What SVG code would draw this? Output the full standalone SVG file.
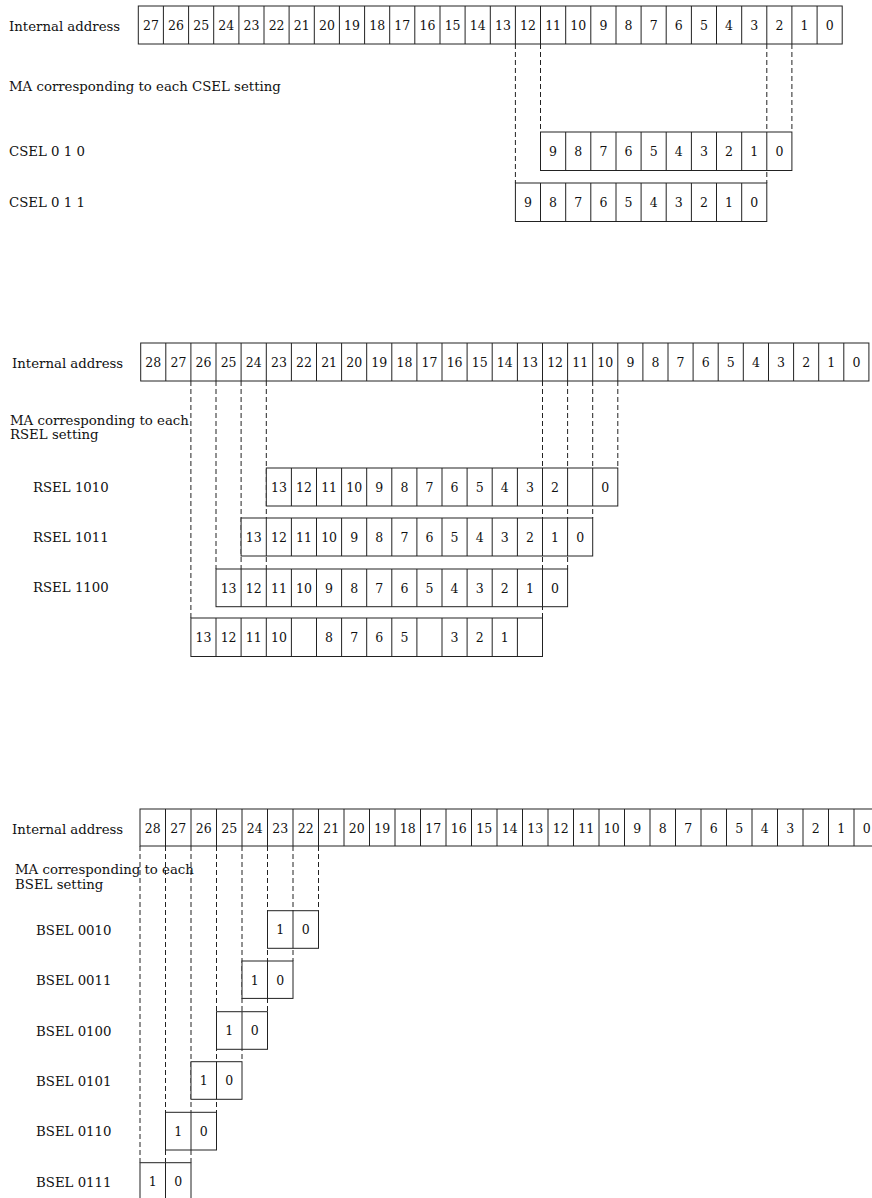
<svg xmlns="http://www.w3.org/2000/svg" width="872" height="1198" viewBox="0 0 872 1198">
<style>
.lbl{font-family:"DejaVu Serif","Liberation Serif",serif;font-size:13.3px;fill:#111}
.n{font-family:"DejaVu Serif","Liberation Serif",serif;font-size:12.5px;fill:#111;text-anchor:middle}
.box{fill:#fff;stroke:#222;stroke-width:1}
.div{fill:none;stroke:#222;stroke-width:1}
.dash{fill:none;stroke:#222;stroke-width:1;stroke-dasharray:5 3}
</style>
<rect width="872" height="1198" fill="#fff"/>

<!-- ===== CSEL section ===== -->
<g id="connectors-csel">
<path class="dash" d="M515.4 44V183M540.5 44V132M766.8 44V183M791.9 44V132"/>
</g>
<g id="csel-labels">
<text class="lbl" x="9" y="30.5">Internal address</text>
<text class="lbl" x="9" y="91">MA corresponding to each CSEL setting</text>
<text class="lbl" x="9" y="156">CSEL 0 1 0</text>
<text class="lbl" x="9" y="207">CSEL 0 1 1</text>
</g>
<g id="csel-internal">
<rect class="box" x="138.3" y="6" width="703.9" height="38"/>
<path class="div" d="M163.4 6v38M188.6 6v38M213.7 6v38M238.9 6v38M264 6v38M289.1 6v38M314.3 6v38M339.4 6v38M364.6 6v38M389.7 6v38M414.8 6v38M440 6v38M465.1 6v38M490.3 6v38M515.4 6v38M540.5 6v38M565.7 6v38M590.8 6v38M616 6v38M641.1 6v38M666.2 6v38M691.4 6v38M716.5 6v38M741.7 6v38M766.8 6v38M791.9 6v38M817.1 6v38"/>
<text class="n" x="150.9" y="30">27</text><text class="n" x="176" y="30">26</text><text class="n" x="201.2" y="30">25</text><text class="n" x="226.3" y="30">24</text><text class="n" x="251.5" y="30">23</text><text class="n" x="276.6" y="30">22</text><text class="n" x="301.7" y="30">21</text><text class="n" x="326.9" y="30">20</text><text class="n" x="352" y="30">19</text><text class="n" x="377.2" y="30">18</text><text class="n" x="402.3" y="30">17</text><text class="n" x="427.4" y="30">16</text><text class="n" x="452.6" y="30">15</text><text class="n" x="477.7" y="30">14</text><text class="n" x="502.9" y="30">13</text><text class="n" x="528" y="30">12</text><text class="n" x="553.1" y="30">11</text><text class="n" x="578.3" y="30">10</text><text class="n" x="603.4" y="30">9</text><text class="n" x="628.6" y="30">8</text><text class="n" x="653.7" y="30">7</text><text class="n" x="678.8" y="30">6</text><text class="n" x="704" y="30">5</text><text class="n" x="729.1" y="30">4</text><text class="n" x="754.3" y="30">3</text><text class="n" x="779.4" y="30">2</text><text class="n" x="804.5" y="30">1</text><text class="n" x="829.7" y="30">0</text>
</g>
<g id="csel-010">
<rect class="box" x="540.5" y="132" width="251.4" height="38.5"/>
<path class="div" d="M565.7 132v38.5M590.8 132v38.5M616 132v38.5M641.1 132v38.5M666.2 132v38.5M691.4 132v38.5M716.5 132v38.5M741.7 132v38.5M766.8 132v38.5"/>
<text class="n" x="553.1" y="156">9</text><text class="n" x="578.3" y="156">8</text><text class="n" x="603.4" y="156">7</text><text class="n" x="628.6" y="156">6</text><text class="n" x="653.7" y="156">5</text><text class="n" x="678.8" y="156">4</text><text class="n" x="704" y="156">3</text><text class="n" x="729.1" y="156">2</text><text class="n" x="754.3" y="156">1</text><text class="n" x="779.4" y="156">0</text>
</g>
<g id="csel-011">
<rect class="box" x="515.4" y="183" width="251.4" height="38.5"/>
<path class="div" d="M540.5 183v38.5M565.7 183v38.5M590.8 183v38.5M616 183v38.5M641.1 183v38.5M666.2 183v38.5M691.4 183v38.5M716.5 183v38.5M741.7 183v38.5"/>
<text class="n" x="528" y="207">9</text><text class="n" x="553.1" y="207">8</text><text class="n" x="578.3" y="207">7</text><text class="n" x="603.4" y="207">6</text><text class="n" x="628.6" y="207">5</text><text class="n" x="653.7" y="207">4</text><text class="n" x="678.8" y="207">3</text><text class="n" x="704" y="207">2</text><text class="n" x="729.1" y="207">1</text><text class="n" x="754.3" y="207">0</text>
</g>

<!-- ===== RSEL section ===== -->
<g id="connectors-rsel">
<path class="dash" d="M190.9 381V618M216 381V569M241.1 381V569M266.3 381V569M542.5 381V618M567.6 381V569M592.7 381V518M617.8 381V468"/>
</g>
<g id="rsel-labels">
<text class="lbl" x="12" y="368">Internal address</text>
<text class="lbl" x="10" y="425">MA corresponding to each</text>
<text class="lbl" x="10" y="439">RSEL setting</text>
<text class="lbl" x="33" y="492">RSEL 1010</text>
<text class="lbl" x="33" y="542">RSEL 1011</text>
<text class="lbl" x="33" y="592">RSEL 1100</text>
</g>
<g id="rsel-internal">
<rect class="box" x="140.7" y="343" width="728.2" height="38"/>
<path class="div" d="M165.8 343v38M190.9 343v38M216 343v38M241.1 343v38M266.3 343v38M291.4 343v38M316.5 343v38M341.6 343v38M366.7 343v38M391.8 343v38M416.9 343v38M442 343v38M467.1 343v38M492.2 343v38M517.4 343v38M542.5 343v38M567.6 343v38M592.7 343v38M617.8 343v38M642.9 343v38M668 343v38M693.1 343v38M718.2 343v38M743.3 343v38M768.5 343v38M793.6 343v38M818.7 343v38M843.8 343v38"/>
<text class="n" x="153.3" y="367">28</text><text class="n" x="178.4" y="367">27</text><text class="n" x="203.5" y="367">26</text><text class="n" x="228.6" y="367">25</text><text class="n" x="253.7" y="367">24</text><text class="n" x="278.9" y="367">23</text><text class="n" x="304" y="367">22</text><text class="n" x="329.1" y="367">21</text><text class="n" x="354.2" y="367">20</text><text class="n" x="379.3" y="367">19</text><text class="n" x="404.4" y="367">18</text><text class="n" x="429.5" y="367">17</text><text class="n" x="454.6" y="367">16</text><text class="n" x="479.7" y="367">15</text><text class="n" x="504.8" y="367">14</text><text class="n" x="530" y="367">13</text><text class="n" x="555.1" y="367">12</text><text class="n" x="580.2" y="367">11</text><text class="n" x="605.3" y="367">10</text><text class="n" x="630.4" y="367">9</text><text class="n" x="655.5" y="367">8</text><text class="n" x="680.6" y="367">7</text><text class="n" x="705.7" y="367">6</text><text class="n" x="730.8" y="367">5</text><text class="n" x="755.9" y="367">4</text><text class="n" x="781.1" y="367">3</text><text class="n" x="806.2" y="367">2</text><text class="n" x="831.3" y="367">1</text><text class="n" x="856.4" y="367">0</text>
</g>
<g id="rsel-1010">
<rect class="box" x="266.3" y="468" width="351.5" height="38"/>
<path class="div" d="M291.4 468v38M316.5 468v38M341.6 468v38M366.7 468v38M391.8 468v38M416.9 468v38M442 468v38M467.1 468v38M492.2 468v38M517.4 468v38M542.5 468v38M567.6 468v38M592.7 468v38"/>
<text class="n" x="278.9" y="491.7">13</text><text class="n" x="304" y="491.7">12</text><text class="n" x="329.1" y="491.7">11</text><text class="n" x="354.2" y="491.7">10</text><text class="n" x="379.3" y="491.7">9</text><text class="n" x="404.4" y="491.7">8</text><text class="n" x="429.5" y="491.7">7</text><text class="n" x="454.6" y="491.7">6</text><text class="n" x="479.7" y="491.7">5</text><text class="n" x="504.8" y="491.7">4</text><text class="n" x="530" y="491.7">3</text><text class="n" x="555.1" y="491.7">2</text><text class="n" x="605.3" y="491.7">0</text>
</g>
<g id="rsel-1011">
<rect class="box" x="241.1" y="518" width="351.6" height="38"/>
<path class="div" d="M266.3 518v38M291.4 518v38M316.5 518v38M341.6 518v38M366.7 518v38M391.8 518v38M416.9 518v38M442 518v38M467.1 518v38M492.2 518v38M517.4 518v38M542.5 518v38M567.6 518v38"/>
<text class="n" x="253.7" y="541.7">13</text><text class="n" x="278.9" y="541.7">12</text><text class="n" x="304" y="541.7">11</text><text class="n" x="329.1" y="541.7">10</text><text class="n" x="354.2" y="541.7">9</text><text class="n" x="379.3" y="541.7">8</text><text class="n" x="404.4" y="541.7">7</text><text class="n" x="429.5" y="541.7">6</text><text class="n" x="454.6" y="541.7">5</text><text class="n" x="479.7" y="541.7">4</text><text class="n" x="504.8" y="541.7">3</text><text class="n" x="530" y="541.7">2</text><text class="n" x="555.1" y="541.7">1</text><text class="n" x="580.2" y="541.7">0</text>
</g>
<g id="rsel-1100">
<rect class="box" x="216" y="569" width="351.6" height="37.7"/>
<path class="div" d="M241.1 569v37.7M266.3 569v37.7M291.4 569v37.7M316.5 569v37.7M341.6 569v37.7M366.7 569v37.7M391.8 569v37.7M416.9 569v37.7M442 569v37.7M467.1 569v37.7M492.2 569v37.7M517.4 569v37.7M542.5 569v37.7"/>
<text class="n" x="228.6" y="592.5">13</text><text class="n" x="253.7" y="592.5">12</text><text class="n" x="278.9" y="592.5">11</text><text class="n" x="304" y="592.5">10</text><text class="n" x="329.1" y="592.5">9</text><text class="n" x="354.2" y="592.5">8</text><text class="n" x="379.3" y="592.5">7</text><text class="n" x="404.4" y="592.5">6</text><text class="n" x="429.5" y="592.5">5</text><text class="n" x="454.6" y="592.5">4</text><text class="n" x="479.7" y="592.5">3</text><text class="n" x="504.8" y="592.5">2</text><text class="n" x="530" y="592.5">1</text><text class="n" x="555.1" y="592.5">0</text>
</g>
<g id="rsel-row4">
<rect class="box" x="190.9" y="618" width="351.6" height="38.5"/>
<path class="div" d="M216 618v38.5M241.1 618v38.5M266.3 618v38.5M291.4 618v38.5M316.5 618v38.5M341.6 618v38.5M366.7 618v38.5M391.8 618v38.5M416.9 618v38.5M442 618v38.5M467.1 618v38.5M492.2 618v38.5M517.4 618v38.5"/>
<text class="n" x="203.5" y="642">13</text><text class="n" x="228.6" y="642">12</text><text class="n" x="253.7" y="642">11</text><text class="n" x="278.9" y="642">10</text><text class="n" x="329.1" y="642">8</text><text class="n" x="354.2" y="642">7</text><text class="n" x="379.3" y="642">6</text><text class="n" x="404.4" y="642">5</text><text class="n" x="454.6" y="642">3</text><text class="n" x="479.7" y="642">2</text><text class="n" x="504.8" y="642">1</text>
</g>

<!-- ===== BSEL section ===== -->
<g id="connectors-bsel">
<path class="dash" d="M140 846V1162.7M165.5 846V1162.7M191 846V1162.7M216.5 846V1112.3M242 846V1061.7M267.5 846V1011.7M293 846V961M318.5 846V910.7"/>
</g>
<g id="bsel-labels">
<text class="lbl" x="12" y="834">Internal address</text>
<text class="lbl" x="15" y="874">MA corresponding to each</text>
<text class="lbl" x="15" y="889">BSEL setting</text>
<text class="lbl" x="36" y="935">BSEL 0010</text>
<text class="lbl" x="36" y="985">BSEL 0011</text>
<text class="lbl" x="36" y="1036">BSEL 0100</text>
<text class="lbl" x="36" y="1086">BSEL 0101</text>
<text class="lbl" x="36" y="1136">BSEL 0110</text>
<text class="lbl" x="36" y="1186.5">BSEL 0111</text>
</g>
<g id="bsel-internal">
<rect class="box" x="140" y="809" width="739.5" height="37"/>
<path class="div" d="M165.5 809v37M191 809v37M216.5 809v37M242 809v37M267.5 809v37M293 809v37M318.5 809v37M344 809v37M369.5 809v37M395 809v37M420.5 809v37M446 809v37M471.5 809v37M497 809v37M522.5 809v37M548 809v37M573.5 809v37M599 809v37M624.5 809v37M650 809v37M675.5 809v37M701 809v37M726.5 809v37M752 809v37M777.5 809v37M803 809v37M828.5 809v37M854 809v37"/>
<text class="n" x="152.8" y="833">28</text><text class="n" x="178.3" y="833">27</text><text class="n" x="203.8" y="833">26</text><text class="n" x="229.3" y="833">25</text><text class="n" x="254.8" y="833">24</text><text class="n" x="280.3" y="833">23</text><text class="n" x="305.8" y="833">22</text><text class="n" x="331.3" y="833">21</text><text class="n" x="356.8" y="833">20</text><text class="n" x="382.3" y="833">19</text><text class="n" x="407.8" y="833">18</text><text class="n" x="433.3" y="833">17</text><text class="n" x="458.8" y="833">16</text><text class="n" x="484.3" y="833">15</text><text class="n" x="509.8" y="833">14</text><text class="n" x="535.3" y="833">13</text><text class="n" x="560.8" y="833">12</text><text class="n" x="586.3" y="833">11</text><text class="n" x="611.8" y="833">10</text><text class="n" x="637.3" y="833">9</text><text class="n" x="662.8" y="833">8</text><text class="n" x="688.3" y="833">7</text><text class="n" x="713.8" y="833">6</text><text class="n" x="739.3" y="833">5</text><text class="n" x="764.8" y="833">4</text><text class="n" x="790.3" y="833">3</text><text class="n" x="815.8" y="833">2</text><text class="n" x="841.3" y="833">1</text><text class="n" x="866.8" y="833">0</text>
</g>
<g id="bsel-0010">
<rect class="box" x="267.5" y="910.7" width="51" height="37.6"/><path class="div" d="M293 910.7v37.6"/>
<text class="n" x="280.3" y="934">1</text><text class="n" x="305.8" y="934">0</text>
</g>
<g id="bsel-0011">
<rect class="box" x="242" y="961" width="51" height="37.4"/><path class="div" d="M267.5 961v37.4"/>
<text class="n" x="254.8" y="984.5">1</text><text class="n" x="280.3" y="984.5">0</text>
</g>
<g id="bsel-0100">
<rect class="box" x="216.5" y="1011.7" width="51" height="37.6"/><path class="div" d="M242 1011.7v37.6"/>
<text class="n" x="229.3" y="1035">1</text><text class="n" x="254.8" y="1035">0</text>
</g>
<g id="bsel-0101">
<rect class="box" x="191" y="1061.7" width="51" height="37.6"/><path class="div" d="M216.5 1061.7v37.6"/>
<text class="n" x="203.8" y="1085">1</text><text class="n" x="229.3" y="1085">0</text>
</g>
<g id="bsel-0110">
<rect class="box" x="165.5" y="1112.3" width="51" height="37.7"/><path class="div" d="M191 1112.3v37.7"/>
<text class="n" x="178.3" y="1135.6">1</text><text class="n" x="203.8" y="1135.6">0</text>
</g>
<g id="bsel-0111">
<rect class="box" x="140" y="1162.7" width="51" height="38"/><path class="div" d="M165.5 1162.7v38"/>
<text class="n" x="152.8" y="1186">1</text><text class="n" x="178.3" y="1186">0</text>
</g>
</svg>
